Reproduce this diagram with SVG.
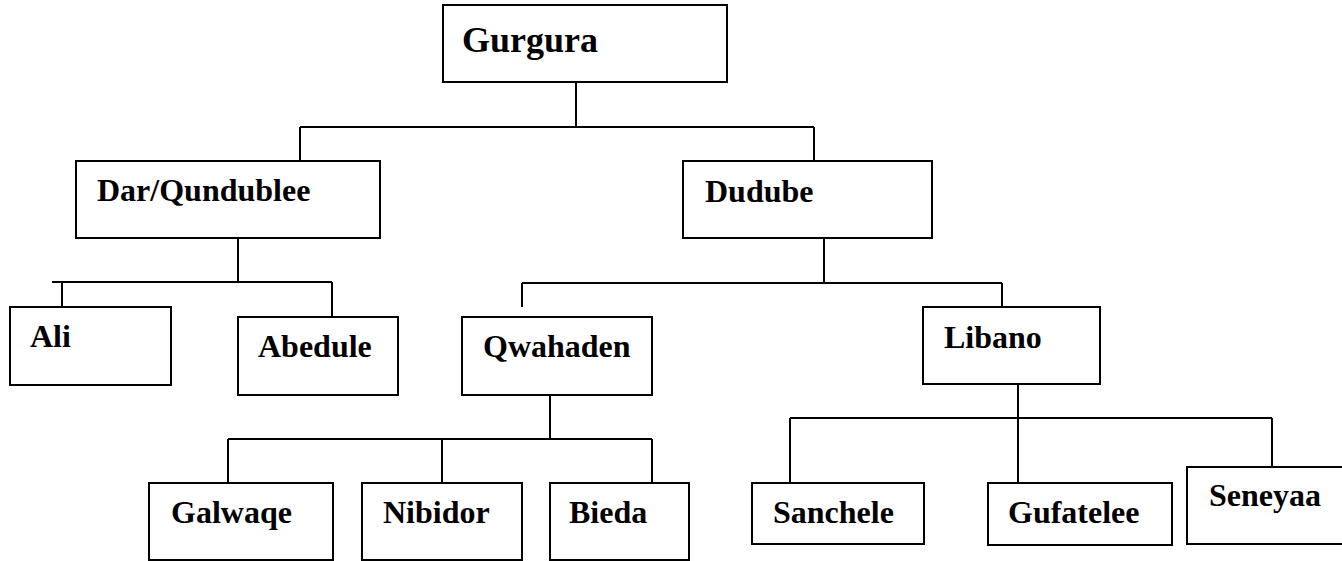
<svg xmlns="http://www.w3.org/2000/svg" width="1342" height="561" viewBox="0 0 1342 561">
<style>
.box{fill:#fff;stroke:#000;stroke-width:2}
.lbl{font-family:"Liberation Serif","Times New Roman",serif;font-weight:bold;font-size:32px;fill:#000}
.big{font-size:36px}
.con{fill:none;stroke:#000;stroke-width:2}
</style>
<rect width="1342" height="561" fill="#fff"/>
<g id="connectors" class="con">
<path d="M576 82V127M300 127H814M300 127V161M814 127V161"/>
<path d="M238 238V282M52 282H332M62 282V307M332 282V317"/>
<path d="M824 238V283M522 283H1002M522 283V307M1002 283V307"/>
<path d="M550 395V439M228 439H652M228 439V483M442 439V483M652 439V483"/>
<path d="M1018 384V483M790 418H1272M790 418V483M1272 418V483"/>
</g>
<g id="gurgura"><rect class="box" x="443" y="5" width="284" height="77"/><text class="lbl big" x="462" y="52">Gurgura</text></g>
<g id="dar"><rect class="box" x="76" y="161" width="304" height="77"/><text class="lbl" x="97" y="201">Dar/Qundublee</text></g>
<g id="dudube"><rect class="box" x="683" y="161" width="249" height="77"/><text class="lbl" x="705" y="202">Dudube</text></g>
<g id="ali"><rect class="box" x="10" y="307" width="161" height="78"/><text class="lbl" x="30" y="347">Ali</text></g>
<g id="abedule"><rect class="box" x="238" y="317" width="160" height="78"/><text class="lbl" x="258" y="357">Abedule</text></g>
<g id="qwahaden"><rect class="box" x="462" y="317" width="190" height="78"/><text class="lbl" x="483" y="357">Qwahaden</text></g>
<g id="libano"><rect class="box" x="923" y="307" width="177" height="77"/><text class="lbl" x="944" y="348">Libano</text></g>
<g id="galwaqe"><rect class="box" x="149" y="483" width="184" height="77"/><text class="lbl" x="171" y="523">Galwaqe</text></g>
<g id="nibidor"><rect class="box" x="362" y="483" width="160" height="77"/><text class="lbl" x="383" y="523">Nibidor</text></g>
<g id="bieda"><rect class="box" x="550" y="483" width="139" height="77"/><text class="lbl" x="569" y="523">Bieda</text></g>
<g id="sanchele"><rect class="box" x="752" y="483" width="172" height="61"/><text class="lbl" x="773" y="523">Sanchele</text></g>
<g id="gufatelee"><rect class="box" x="988" y="483" width="184" height="62"/><text class="lbl" x="1008" y="523">Gufatelee</text></g>
<g id="seneyaa"><rect class="box" x="1187" y="467" width="165" height="77"/><text class="lbl" x="1209" y="506">Seneyaa</text></g>
</svg>
